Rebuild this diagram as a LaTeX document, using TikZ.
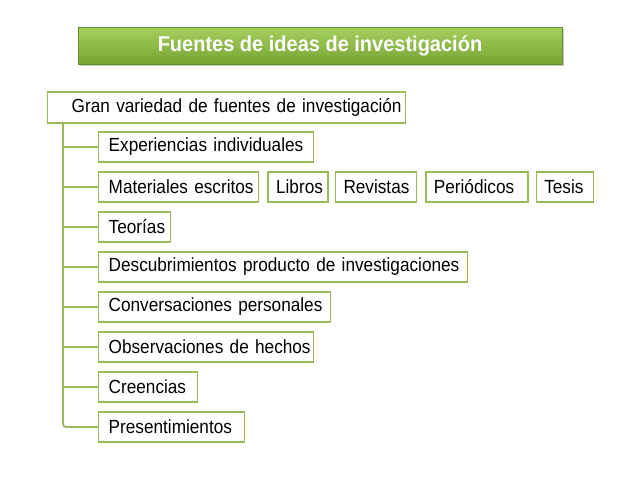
\documentclass[tikz,border=0pt]{standalone}
\usepackage{fontspec}
\setmainfont{Liberation Sans}
\newfontfamily\itemfont[FakeStretch=0.905]{Liberation Sans}
\newfontfamily\titlefont[FakeStretch=0.93]{Liberation Sans}
\usetikzlibrary{shadows,calc}
\definecolor{olive}{HTML}{9BBB59}
\definecolor{bartop}{HTML}{A6CF5F}
\definecolor{barbot}{HTML}{76A534}
\begin{document}
\begin{tikzpicture}[x=1pt,y=-1pt,
  titlebar/.style={rectangle, minimum width=484pt, minimum height=37pt, inner sep=0pt,
    top color=bartop, bottom color=barbot, draw=barbot!85!black, line width=0.6pt,
    drop shadow={shadow xshift=1.5pt, shadow yshift=-1.5pt, opacity=0.35, fill=black!60},
    text=white, font=\titlefont\bfseries\fontsize{21.5}{23}\selectfont},
  itembox/.style={rectangle, draw=olive, line width=1.4pt, fill=white, anchor=west,
    minimum height=30pt, inner xsep=10pt, inner ysep=0pt, align=left,
    font=\itemfont\fontsize{19}{21}\selectfont},
  link/.style={draw=olive, line width=1.8pt}]
\useasboundingbox (0,0) rectangle (638,479);
\fill[white] (0,0) rectangle (638,479);

\node[titlebar] (title) at (320,45.5) {Fuentes de ideas de investigación};

\node[itembox, minimum height=31pt, text width=358pt, inner xsep=0pt] (main) at (47,107.5) {\hspace*{24pt}\mbox{Gran variedad de fuentes de investigación}};

\node[itembox, text width=195pt] (e1) at (98,147) {\mbox{Experiencias individuales}};
\node[itembox, text width=140pt] (e2) at (98,187) {\mbox{Materiales escritos}};
\node[itembox, text width=44pt, inner xsep=8pt] (b1) at ($(e2.east)+(8,0)$) {\mbox{Libros}};
\node[itembox, text width=65pt, inner xsep=8pt] (b2) at ($(b1.east)+(6,0)$) {\mbox{Revistas}};
\node[itembox, text width=86pt, inner xsep=8pt] (b3) at ($(b2.east)+(8,0)$) {\mbox{Periódicos}};
\node[itembox, text width=41pt, inner xsep=8pt] (b4) at ($(b3.east)+(7,0)$) {\mbox{Tesis}};
\node[itembox, text width=52pt] (e3) at (98,227) {\mbox{Teorías}};
\node[itembox, text width=349pt] (e4) at (98,267) {\mbox{Descubrimientos producto de investigaciones}};
\node[itembox, text width=212pt] (e5) at (98,307) {\mbox{Conversaciones personales}};
\node[itembox, text width=195pt] (e6) at (98,347) {\mbox{Observaciones de hechos}};
\node[itembox, text width=79pt] (e7) at (98,387) {\mbox{Creencias}};
\node[itembox, text width=126pt] (e8) at (98,427) {\mbox{Presentimientos}};

\coordinate (trunk) at ($(main.south west)+(16,0)$);
\foreach \n in {e1,e2,e3,e4,e5,e6,e7}{
  \draw[link] (trunk |- \n.west) -- (\n.west);
}
\draw[link, rounded corners=3pt] (trunk) -- (trunk |- e8.west) -- (e8.west);
\end{tikzpicture}
\end{document}
